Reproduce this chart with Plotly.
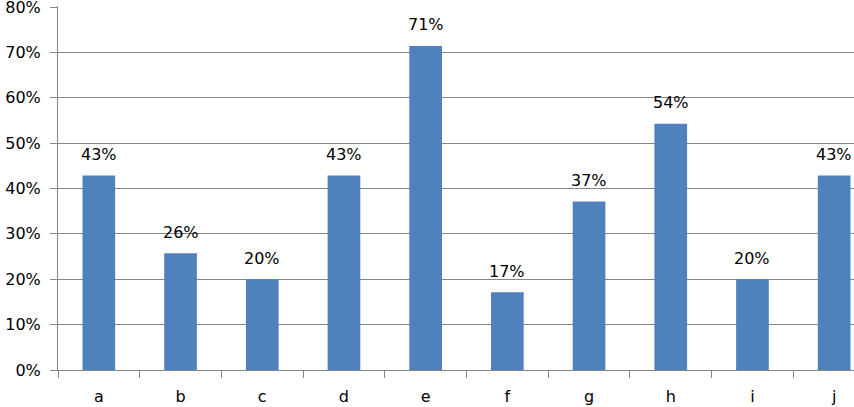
import plotly.graph_objects as go

categories = ["a", "b", "c", "d", "e", "f", "g", "h", "i", "j"]
values = [0.4286, 0.2571, 0.20, 0.4286, 0.7143, 0.1714, 0.3714, 0.5429, 0.20, 0.4286]
y_ticks = [0, 0.1, 0.2, 0.3, 0.4, 0.5, 0.6, 0.7, 0.8]

FONT = "DejaVu Sans"
GRID = "#868686"

fig = go.Figure(go.Bar(x=categories, y=values, marker_color="#4F81BD",
                       marker_line_width=0, width=0.4))

# data labels above each bar
for c, v in zip(categories, values):
    fig.add_annotation(x=c, y=v, text=f"{round(v * 100)}%", showarrow=False,
                       yanchor="middle", yshift=21,
                       font=dict(family=FONT, size=16, color="black"))

fig.update_layout(
    width=854, height=407,
    margin=dict(l=58, r=0, t=6, b=37, autoexpand=False),
    paper_bgcolor="white", plot_bgcolor="white",
    showlegend=False,
    font=dict(family=FONT, size=16, color="black"),
    bargap=0.6,
)
fig.update_xaxes(
    type="category", range=[-0.5, 9.243], automargin=False,
    showline=True, linecolor=GRID, linewidth=1,
    ticks="outside", tickson="boundaries", ticklen=7, tickcolor=GRID,
    showgrid=False, ticklabelstandoff=12,
)
fig.update_yaxes(
    range=[0, 0.8022], tickvals=y_ticks, tickformat=".0%", automargin=False,
    showline=True, linecolor=GRID, linewidth=1,
    ticks="outside", ticklen=7, tickcolor=GRID,
    showgrid=True, gridcolor=GRID, gridwidth=1,
    zeroline=False, ticklabelstandoff=6, ticklabeloverflow="allow",
)

# drop the default page margin so the chart sits at the window's corner
fig.write_html("out.html", config={"displayModeBar": False},
               post_script="document.body.style.margin='0';")
